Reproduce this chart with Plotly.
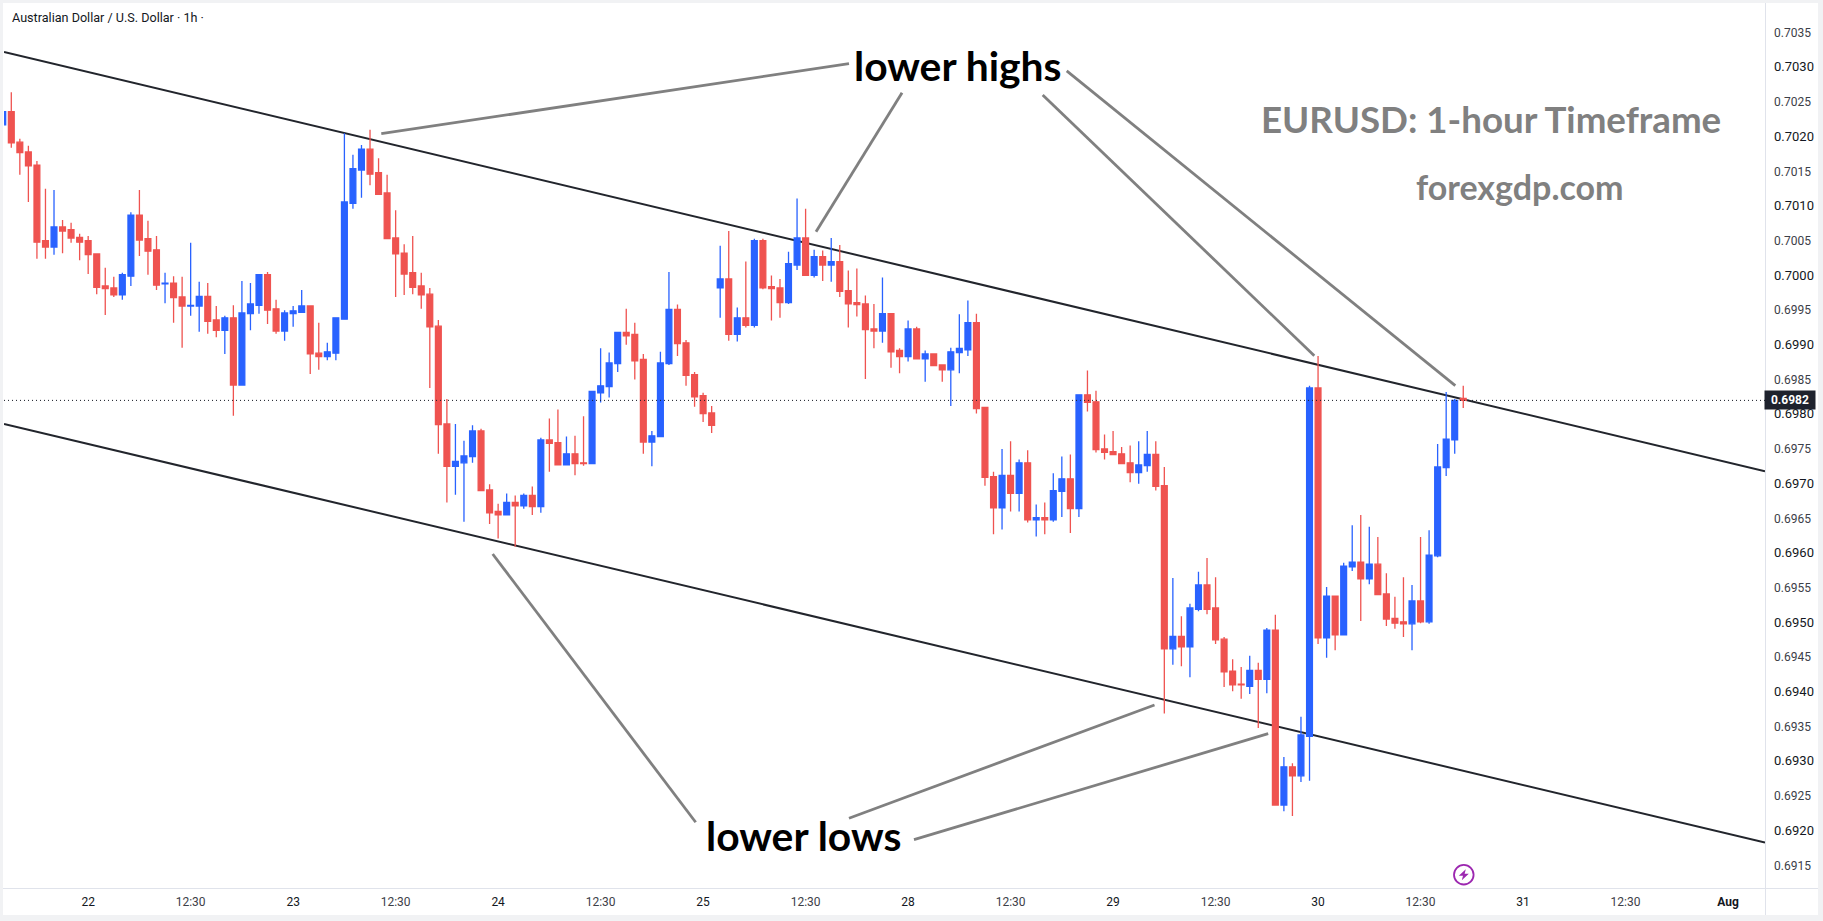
import plotly.graph_objects as go

# Hourly AUD/USD candles, prices stored in units of 0.00001
opens = [70217,70236,70192,70178,70159,70050,70041,70070,70066,70055,70050,70031,69985,69982,69972,69999,70087,70053,70037,69988,
69989,69969,69956,69956,69970,69936,69921,69939,69842,69945,69957,70001,69952,69920,69945,69947,69956,69888,69883,69888,
69937,70104,70152,70182,70148,70119,70054,70032,70004,69985,69973,69927,69786,69725,69730,69739,69776,69691,69660,69655,
69673,69668,69683,69667,69763,69759,69727,69743,69730,69729,69831,69840,69873,69918,69915,69879,69760,69768,69873,69951,
69903,69857,69827,69802,69982,69995,69915,69939,69928,70050,69984,69982,69961,70015,70054,70000,70027,70015,70020,69978,
69961,69959,69923,69920,69945,69892,69883,69923,69880,69887,69871,69864,69889,69893,69932,69810,69710,69665,69712,69686,
69730,69648,69651,69648,69689,69707,69664,69828,69818,69750,69746,69743,69730,69716,69726,69742,69697,69462,69480,69465,
69519,69554,69521,69476,69430,69411,69408,69431,69418,69489,69237,69292,69279,69336,69838,69478,69538,69482,69580,69587,
69563,69584,69541,69506,69501,69498,69531,69501,69596,69723,69763,69823]
highs = [70236,70264,70197,70187,70165,70125,70123,70080,70076,70060,70057,70032,70011,69998,70004,70091,70123,70079,70057,70004,
69999,69998,70047,69991,69989,69956,69942,69957,69992,69989,70001,70005,69965,69950,69956,69979,69956,69932,69903,69939,
70205,70174,70188,70210,70169,70145,70094,70045,70057,70004,69982,69936,69822,69786,69762,69784,69779,69699,69671,69686,
69683,69686,69696,69766,69794,69807,69768,69769,69797,69833,69895,69889,69918,69952,69932,69887,69776,69890,70005,69958,
69907,69861,69831,69812,70043,70064,69954,70020,70053,70053,70000,69995,70034,70111,70096,70037,70036,70054,70044,70007,
70010,69971,69959,69997,69946,69895,69935,69926,69892,69887,69871,69896,69944,69964,69945,69810,69717,69750,69761,69735,
69748,69670,69673,69715,69739,69742,69828,69863,69834,69771,69776,69753,69755,69761,69776,69761,69724,69564,69509,69527,
69573,69593,69565,69479,69447,69436,69452,69442,69492,69511,69306,69297,69364,69841,69884,69551,69538,69586,69640,69655,
69638,69623,69571,69537,69565,69554,69623,69633,69757,69832,69822,69841]
lows = [70217,70184,70145,70106,70024,70024,70030,70032,70047,70022,70002,69973,69943,69969,69965,69985,70028,70001,69979,69960,
69932,69896,69942,69919,69916,69911,69887,69798,69842,69921,69945,69930,69916,69906,69926,69946,69858,69864,69878,69878,
69937,70096,70112,70130,70116,70053,69969,69972,69973,69952,69838,69743,69673,69684,69645,69730,69690,69642,69621,69655,
69609,69664,69655,69658,69717,69727,69727,69712,69726,69729,69817,69824,69861,69900,69850,69743,69725,69768,69871,69884,
69841,69811,69789,69773,69939,69906,69905,69925,69925,69980,69935,69939,69959,70008,70000,69997,69992,69991,69969,69925,
69941,69851,69895,69903,69867,69859,69876,69880,69847,69870,69847,69812,69859,69884,69801,69697,69627,69634,69660,69660,
69644,69624,69627,69645,69652,69629,69652,69804,69745,69735,69742,69729,69702,69700,69717,69690,69369,69439,69437,69421,
69516,69512,69469,69407,69401,69390,69397,69348,69398,69237,69228,69221,69270,69272,69469,69449,69460,69482,69574,69502,
69555,69540,69495,69491,69479,69460,69499,69498,69594,69711,69743,69809]
closes = [70236,70191,70177,70158,70048,70041,70070,70064,70054,70048,70030,69983,69981,69972,70001,70087,70051,70035,69986,69989,
69968,69956,69957,69970,69934,69921,69939,69842,69946,69959,70001,69950,69920,69946,69949,69956,69887,69883,69890,69939,
70106,70154,70182,70146,70117,70053,70031,70002,69983,69972,69926,69785,69725,69732,69740,69776,69690,69658,69655,69673,
69668,69683,69667,69763,69758,69727,69743,69729,69729,69833,69841,69874,69918,69913,69877,69760,69769,69874,69951,69902,
69856,69825,69801,69784,69995,69915,69939,69928,70050,69982,69981,69961,70017,70054,70000,70027,70015,70020,69977,69959,
69958,69922,69920,69945,69890,69883,69923,69880,69887,69870,69864,69890,69895,69932,69808,69709,69665,69712,69686,69730,
69648,69651,69648,69690,69707,69664,69828,69817,69749,69745,69742,69729,69716,69727,69742,69696,69462,69480,69465,69521,
69554,69519,69475,69429,69410,69410,69431,69418,69489,69237,69292,69279,69338,69838,69478,69538,69482,69581,69587,69563,
69584,69540,69505,69499,69498,69531,69501,69597,69724,69764,69820,69820]

bars = list(range(len(closes)))
PRICE_UNIT = 1e-5
last_price = 0.6982

# Time axis: bar positions and labels
time_tick_bars = [10,22,34,46,58,70,82,94,106,118,130,142,154,166,178,190,202]
time_tick_labels = ["22","12:30","23","12:30","24","12:30","25","12:30","28","12:30","29","12:30","30","12:30","31","12:30","Aug"]
# Price axis, in steps of 0.0005
price_ticks = [0.6915,0.6920,0.6925,0.6930,0.6935,0.6940,0.6945,0.6950,0.6955,0.6960,0.6965,0.6970,0.6975,0.6980,0.6985,
               0.6990,0.6995,0.7000,0.7005,0.7010,0.7015,0.7020,0.7025,0.7030,0.7035]

# Descending channel boundaries (bar, price)
channel_bars = [0.145, 206.33]
channel_upper = [0.70322, 0.69718]
channel_lower = [0.69786, 0.69183]

# Callout strokes between the labels and the swing points: (bar0, price0, bar1, price1)
callouts = [
    (44.32, 0.702043, 99.08, 0.703052),
    (105.29, 0.702634, 95.22, 0.700631),
    (121.76, 0.702601, 153.56, 0.698844),
    (124.57, 0.702947, 170.07, 0.698412),
    (57.36, 0.695987, 81.13, 0.692121),
    (99.08, 0.692179, 134.85, 0.693811),
    (106.69, 0.691870, 148.16, 0.693398),
]

BLUE = "#2962ff"
RED = "#ef5350"
GREY = "#808080"
W, H = 1823, 921
LEFT, RIGHT, TOP, BOTTOM = 4, 1765, 3, 888

def px(x):
    return (x - LEFT) / (RIGHT - LEFT)

def py(y):
    return (BOTTOM - y) / (BOTTOM - TOP)

fig = go.Figure(go.Candlestick(
    x=bars,
    open=[v * PRICE_UNIT for v in opens],
    high=[v * PRICE_UNIT for v in highs],
    low=[v * PRICE_UNIT for v in lows],
    close=[v * PRICE_UNIT for v in closes],
    increasing=dict(line=dict(color=BLUE, width=1.3), fillcolor=BLUE),
    decreasing=dict(line=dict(color=RED, width=1.3), fillcolor=RED),
    whiskerwidth=0,
    hoverinfo="skip",
))

shapes = [
    # white chart panel on the pale page strip
    dict(type="rect", xref="paper", yref="paper", x0=px(3), x1=px(1818), y0=py(3), y1=py(915),
         fillcolor="white", line=dict(width=0), layer="below"),
    dict(type="line", xref="paper", yref="paper", x0=px(1765.5), x1=px(1765.5), y0=py(3), y1=py(915),
         line=dict(color="#e0e3eb", width=1), layer="below"),
    dict(type="line", xref="paper", yref="paper", x0=px(3), x1=px(1818), y0=py(888.5), y1=py(888.5),
         line=dict(color="#e0e3eb", width=1), layer="below"),
]
for series in (channel_upper, channel_lower):
    shapes.append(dict(type="line", xref="x", yref="y", x0=channel_bars[0], x1=channel_bars[1],
                       y0=series[0], y1=series[1], line=dict(color="#22252c", width=2), layer="below"))
shapes.append(dict(type="line", xref="x", yref="y", x0=channel_bars[0], x1=channel_bars[1],
                   y0=last_price, y1=last_price, line=dict(color="#131722", width=1, dash="1px,3px")))
for b0, p0, b1, p1 in callouts:
    shapes.append(dict(type="line", xref="x", yref="y", x0=b0, y0=p0, x1=b1, y1=p1,
                       line=dict(color=GREY, width=2.8)))

# Alert badge near the time axis
cx, cy, r = 1463.8, 874.7, 9.8
shapes.append(dict(type="circle", xref="paper", yref="paper", x0=px(cx - r), x1=px(cx + r),
                   y0=py(cy + r), y1=py(cy - r), line=dict(color="#9c27b0", width=1.8)))
bolt = [(2, -5.5), (-5, 1), (-0.8, 1), (-2, 5.5), (5, -1), (0.8, -1)]
path = "M" + " L".join(f"{px(cx + dx):.6f},{py(cy + dy):.6f}" for dx, dy in bolt) + " Z"
shapes.append(dict(type="path", xref="paper", yref="paper", path=path, fillcolor="#9c27b0", line=dict(width=0)))

def label(text, bar, price, size, color):
    return dict(text=f"<b>{text}</b>", x=bar, y=price, xref="x", yref="y", showarrow=False,
                xanchor="center", yanchor="middle", font=dict(family="Lato", size=size, color=color))

annotations = [
    label("lower highs", 111.84, 0.703027, 40.8, "#000000"),
    label("lower lows", 93.74, 0.691924, 40.8, "#000000"),
    label("EURUSD: 1-hour Timeframe", 174.24, 0.702255, 36.7, GREY),
    label("forexgdp.com", 177.6, 0.701275, 34, GREY),
    dict(text="Australian Dollar / U.S. Dollar · 1h ·", x=px(10), y=py(17.5), xref="paper", yref="paper",
         showarrow=False, xanchor="left", yanchor="middle",
         font=dict(family="Roboto", size=12.6, color="#131722")),
    dict(text="<b>0.6982</b>", x=px(1790), y=last_price, xref="paper", yref="y", showarrow=False,
         xanchor="center", yanchor="middle", width=48, height=16, bgcolor="#1e222d",
         font=dict(family="Roboto", size=12, color="white")),
]

def price_label(v):
    text = f"{v:.4f}"
    if text.endswith("0"):
        return f'<span style="font-size:13px;color:#131722">{text}</span>'
    return f'<span style="color:#3c4048">{text}</span>'

def time_label(t):
    if t == "Aug":
        return "<b>Aug</b>"
    if ":" in t:
        return f'<span style="color:#3c4048">{t}</span>'
    return t

fig.update_layout(
    width=W, height=H, autosize=False,
    margin=dict(l=LEFT, r=W - RIGHT, t=TOP, b=H - BOTTOM, pad=0),
    paper_bgcolor="#f1f2f4", plot_bgcolor="white",
    showlegend=False, hovermode=False, boxgap=0.32, boxgroupgap=0,
    shapes=shapes, annotations=annotations,
    xaxis=dict(range=[channel_bars[0], channel_bars[1]], showgrid=False, zeroline=False, showline=False,
               rangeslider=dict(visible=False), tickmode="array", tickvals=time_tick_bars,
               ticktext=[time_label(t) for t in time_tick_labels], ticks="", ticklabelstandoff=5,
               tickangle=0, tickfont=dict(family="Roboto", size=12, color="#131722")),
    yaxis=dict(range=[0.691174, 0.703926], side="right", showgrid=False, zeroline=False, showline=False,
               tickmode="array", tickvals=price_ticks, ticktext=[price_label(v) for v in price_ticks],
               ticks="", ticklabelstandoff=8, tickfont=dict(family="Roboto", size=12, color="#131722")),
)

fig.write_html("out.html", config=dict(displayModeBar=False))
